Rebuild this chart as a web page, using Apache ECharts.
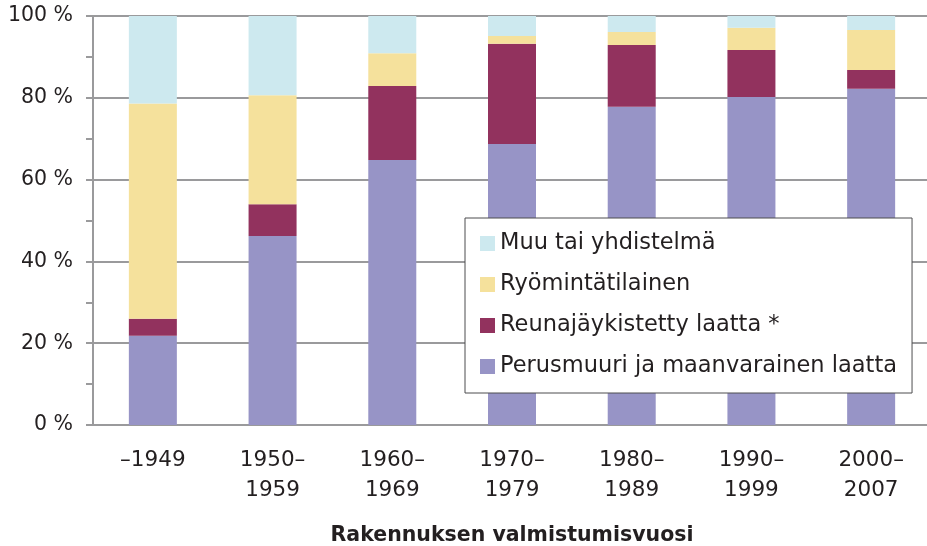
<!DOCTYPE html>
<html>
<head>
<meta charset="utf-8">
<script src="https://cdn.jsdelivr.net/npm/echarts@6/dist/echarts.min.js"></script>
<style>
  html, body { margin: 0; padding: 0; background: #fff; }
  #chart { width: 927px; height: 546px; }
</style>
</head>
<body>
<div id="chart"></div>
<script>
const categories = ['–1949', '1950–\n1959', '1960–\n1969', '1970–\n1979', '1980–\n1989', '1990–\n1999', '2000–\n2007']
const perusmuuri = [21.8, 46.2, 64.8, 68.7, 77.8, 80.2, 82.2]
const reunajaykistetty = [4.2, 7.8, 18.1, 24.5, 15.1, 11.5, 4.6]
const ryomintatilainen = [52.6, 26.6, 8.0, 1.9, 3.2, 5.4, 9.8]
const muu = [21.4, 19.4, 9.1, 4.9, 3.9, 2.9, 3.4]
const yTicks = [0, 20, 40, 60, 80, 100]

const font = '"DejaVu Sans", sans-serif'
const textColor = '#231f20'
const gridColor = '#9a9a9c'

let myChart = echarts.init(document.getElementById('chart'))
let option = {
  animation: false,
  textStyle: { fontFamily: font },
  grid: {
    left: 93,
    right: -4,
    top: 16,
    bottom: 121,
    outerBoundsMode: 'none'
  },
  legend: {
    orient: 'vertical',
    left: 465,
    top: 218,
    padding: [14, 15, 15, 15],
    itemGap: 18,
    itemWidth: 15,
    itemHeight: 15,
    icon: 'rect',
    backgroundColor: '#fff',
    borderColor: '#4d4d4f',
    borderWidth: 1,
    textStyle: { fontSize: 22.5, color: textColor, fontFamily: font },
    data: ['Muu tai yhdistelmä', 'Ryömintätilainen', 'Reunajäykistetty laatta *', 'Perusmuuri ja maanvarainen laatta']
  },
  xAxis: {
    type: 'category',
    data: categories,
    name: 'Rakennuksen valmistumisvuosi',
    nameLocation: 'middle',
    nameGap: 100,
    nameTextStyle: { fontSize: 20.5, fontWeight: 'bold', color: textColor, fontFamily: font },
    axisLine: { lineStyle: { color: gridColor, width: 2 } },
    axisTick: { length: 8, lineStyle: { color: gridColor, width: 2 } },
    axisLabel: { fontSize: 21.5, lineHeight: 30, margin: 20, color: textColor, fontFamily: font }
  },
  yAxis: {
    type: 'value',
    min: yTicks[0],
    max: yTicks[yTicks.length - 1],
    interval: 20,
    axisLine: { show: true, lineStyle: { color: gridColor, width: 2 } },
    axisTick: { show: true, length: 7, lineStyle: { color: gridColor, width: 2 } },
    minorTick: { show: true, splitNumber: 2, length: 7, lineStyle: { color: gridColor, width: 2 } },
    splitLine: { lineStyle: { color: gridColor, width: 2 } },
    axisLabel: { formatter: '{value} %', fontSize: 20.5, margin: 20, color: textColor, fontFamily: font }
  },
  series: [
    { name: 'Perusmuuri ja maanvarainen laatta', type: 'bar', stack: 'total', barWidth: 48, itemStyle: { color: '#9794c6' }, data: perusmuuri },
    { name: 'Reunajäykistetty laatta *', type: 'bar', stack: 'total', itemStyle: { color: '#92325e' }, data: reunajaykistetty },
    { name: 'Ryömintätilainen', type: 'bar', stack: 'total', itemStyle: { color: '#f5e19c' }, data: ryomintatilainen },
    { name: 'Muu tai yhdistelmä', type: 'bar', stack: 'total', itemStyle: { color: '#cde9ef' }, data: muu }
  ]
}
myChart.setOption(option)

window.addEventListener('resize', () => {
  myChart.resize()
})
</script>
</body>
</html>
